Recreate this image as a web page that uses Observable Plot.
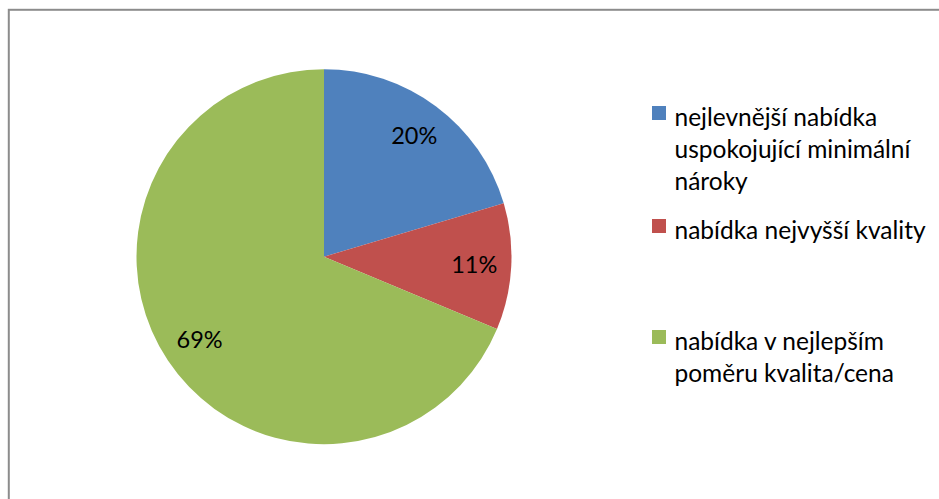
<!DOCTYPE html>
<html><head><meta charset="utf-8">
<style>html,body{margin:0;padding:0;background:#fff;overflow:hidden}</style>
<script src="https://cdn.jsdelivr.net/npm/d3@7"></script>
<script src="https://cdn.jsdelivr.net/npm/@observablehq/plot@0.6"></script>
</head><body><div id="chart"></div>
<script>
// ---- data ----
const categories = [
  "nejlevnější nabídka uspokojující minimální nároky",
  "nabídka nejvyšší kvality",
  "nabídka v nejlepším poměru kvalita/cena"
];
const legendLines = [
  ["nejlevnější nabídka", "uspokojující minimální", "nároky"],
  ["nabídka nejvyšší kvality"],
  ["nabídka v nejlepším", "poměru kvalita/cena"]
];
const shares = [20.4, 10.9, 68.7];
const colors = ["#4F81BD", "#C0504D", "#9BBB59"];

// ---- layout ----
const W = 939, H = 499;
const cx = 324, cy = 256.7, R = 187.5, labelR = 0.8;
const fs = 24.5, labelFs = 23.5, lineH = 32, fontFamily = "Lato, 'Open Sans', sans-serif";
const legX = 652, legBox = 14, legTextX = 674;
const legCenters = [113, 226, 337];

const data = categories.map((c, i) => ({category: c, value: shares[i]}));
const total = d3.sum(shares);
const arcs = d3.pie().sort(null).value(d => d.value)(data);
const labels = arcs.map(a => {
  const m = (a.startAngle + a.endAngle) / 2;
  return {x: cx + labelR * R * Math.sin(m), y: cy - labelR * R * Math.cos(m), text: d3.format(".0%")(a.data.value / total)};
});
const legend = categories.map((c, i) => ({category: c, lines: legendLines[i], cy: legCenters[i]}));

function pieMark(index, scales, values, dimensions, context) {
  const x0 = scales.x(cx), y0 = scales.y(cy);
  const rad = scales.x(cx + R) - x0;
  const arc = d3.arc().innerRadius(0).outerRadius(rad);
  const g = d3.create("svg:g").attr("transform", `translate(${x0},${y0})`);
  g.selectAll("path").data(arcs).join("path")
    .attr("d", arc)
    .attr("fill", d => scales.color(d.data.category));
  return g.node();
}

const chart = Plot.plot({
  width: W, height: H,
  margin: 0,
  x: {domain: [0, W], axis: null},
  y: {domain: [0, H], reverse: true, axis: null},
  color: {domain: categories, range: colors},
  style: {background: "#fff", overflow: "hidden"},
  marks: [
    Plot.frame({stroke: "#8c8c8c", strokeWidth: 2, insetLeft: 8.3, insetTop: 9.3, insetRight: -20, insetBottom: -20}),
    pieMark,
    Plot.text(labels, {x: "x", y: "y", text: "text", fontSize: labelFs, fontFamily, fill: "#000", textAnchor: "middle"}),
    Plot.rect(legend, {x1: () => legX, x2: () => legX + legBox, y1: d => d.cy - legBox / 2, y2: d => d.cy + legBox / 2, fill: "category"}),
    Plot.text(legend, {x: () => legTextX, y: d => d.cy + 7 - 0.71 * fs, text: d => d.lines.join("\n"),
      textAnchor: "start", lineAnchor: "top", lineHeight: lineH / fs, fontSize: fs, fontFamily, fill: "#000"})
  ]
});
document.getElementById("chart").append(chart);
</script>
</body></html>
